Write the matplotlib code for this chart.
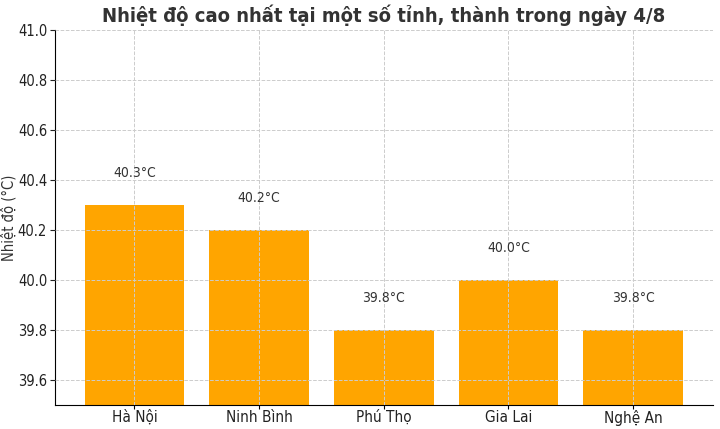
import matplotlib
matplotlib.use("Agg")
import matplotlib.pyplot as plt

provinces = ["Hà Nội", "Ninh Bình", "Phú Thọ", "Gia Lai", "Nghệ An"]
temps = [40.3, 40.2, 39.8, 40.0, 39.8]

plt.rcParams['font.family'] = ['DejaVu Sans']
plt.rcParams['font.stretch'] = 'condensed'

fig, ax = plt.subplots(figsize=(7.2, 4.29), dpi=100)
fig.subplots_adjust(left=0.076, right=0.99, top=0.93, bottom=0.055)

x_pos = list(range(len(provinces)))
ax.bar(x_pos, temps, color='#FFA500', width=0.8, zorder=1)

for x, t in zip(x_pos, temps):
    ax.text(x, t + 0.1, f"{t:.1f}°C", ha='center', va='bottom',
            fontsize=10, color='#333333', zorder=3)

ax.set_ylim(39.5, 41.0)
ax.set_yticks([39.6, 39.8, 40.0, 40.2, 40.4, 40.6, 40.8, 41.0])
ax.set_xticks(x_pos)
ax.set_xticklabels(provinces, fontsize=11, color='#222222')
ax.tick_params(axis='y', labelsize=10.5, colors='#222222', pad=2)
ax.tick_params(axis='x', pad=0, length=3)
ax.set_ylabel("Nhiệt độ (°C)", fontsize=10.5, color='#333333')
ax.yaxis.set_label_coords(-0.058, 0.5)
ax.set_title("Nhiệt độ cao nhất tại một số tỉnh, thành trong ngày 4/8",
             fontsize=14.5, fontweight='bold', color='#333333', pad=6)

ax.grid(True, linestyle='--', color='#cccccc', linewidth=0.7, zorder=2)
ax.set_axisbelow(False)
ax.spines['top'].set_visible(False)
ax.spines['right'].set_visible(False)

plt.savefig("out.png", dpi=100, facecolor='w')
